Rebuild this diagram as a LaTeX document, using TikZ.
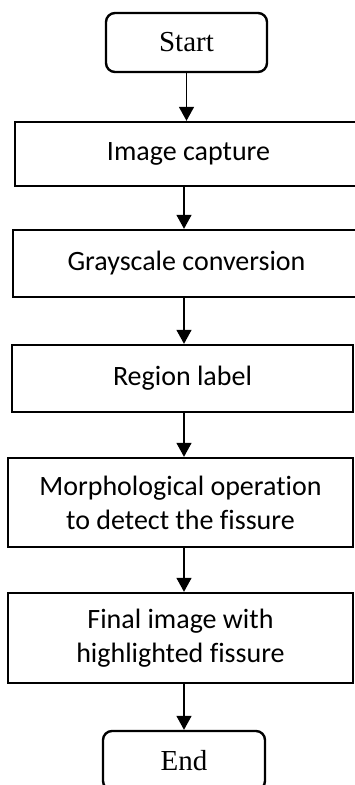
\documentclass[tikz,border=0pt]{standalone}
\usepackage{fontspec}
\newfontfamily\boxfont[Ligatures=NoCommon]{Carlito}
\newfontfamily\termfont{Liberation Serif}
\usetikzlibrary{arrows.meta}
\tikzset{
  term/.style={draw, line width=2.4pt, rounded corners=9pt, inner sep=0pt,
    minimum width=161pt, minimum height=59pt,
    font=\termfont\fontsize{29}{34}\selectfont},
  proc/.style={draw, line width=2.4pt, inner sep=0pt, align=center,
    font=\boxfont\fontsize{28}{34}\selectfont},
  arr/.style={line width=1.5pt, -{Triangle[length=14pt,width=15pt]}}
}
\begin{document}
\begin{tikzpicture}[x=1pt,y=-1pt]
\useasboundingbox (0,0) rectangle (355,785);
\clip (0,0) rectangle (355,785);
\fill[white] (0,0) rectangle (355,785);
\coordinate (axis) at (184,0);
\node[term] (start) at (186.5,42.5) {Start};
\node[proc, minimum width=347pt, minimum height=64pt] (cap) at (188.5,154) {Image capture};
\node[proc, minimum width=347pt, minimum height=67pt] (gray) at (186.5,263.5) {Grayscale conversion};
\node[proc, minimum width=341pt, minimum height=67pt] (reg) at (182.5,378.5) {Region label};
\node[proc, minimum width=345pt, minimum height=89pt] (morph) at (180.5,502.5) {Morphological operation\\to detect the fissure};
\node[proc, minimum width=345pt, minimum height=90pt] (fin) at (180.5,638) {Final image with\\highlighted fissure};
\node[term, minimum width=162pt] (end) at (184,760.5) {End};
\draw[arr] (start.south) -- (start.south |- cap.north);
\draw[arr] (cap.south -| axis) -- (gray.north -| axis);
\draw[arr] (gray.south -| axis) -- (reg.north -| axis);
\draw[arr] (reg.south -| axis) -- (morph.north -| axis);
\draw[arr] (morph.south -| axis) -- (fin.north -| axis);
\draw[arr] (fin.south -| axis) -- (end.north -| axis);
\end{tikzpicture}
\end{document}
